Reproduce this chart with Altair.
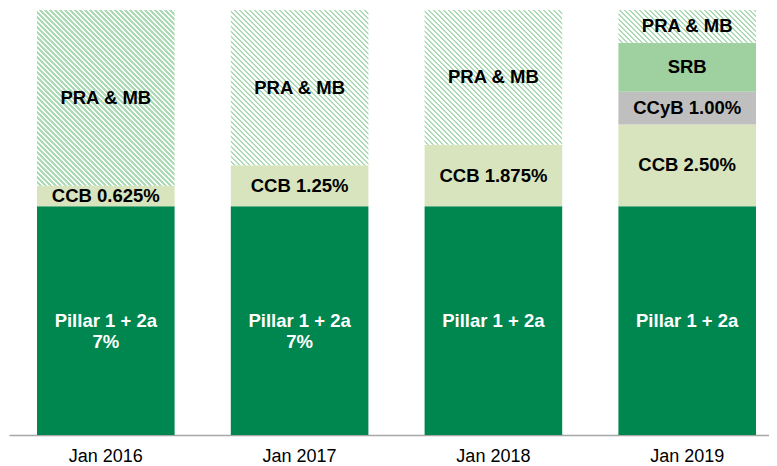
import math
import altair as alt
import pandas as pd

# ---- data -------------------------------------------------------------
years = ["Jan 2016", "Jan 2017", "Jan 2018", "Jan 2019"]
pillar = [7.0, 7.0, 7.0, 7.0]
ccb = [0.625, 1.25, 1.875, 2.5]
ccyb = [0.0, 0.0, 0.0, 1.0]
srb = [0.0, 0.0, 0.0, 1.5]
pra = [5.375, 4.75, 4.125, 1.0]

pillar_labels = ["Pillar 1 + 2a\n7%", "Pillar 1 + 2a\n7%", "Pillar 1 + 2a", "Pillar 1 + 2a"]
ccb_labels = ["CCB 0.625%", "CCB 1.25%", "CCB 1.875%", "CCB 2.50%"]
ccyb_labels = ["", "", "", "CCyB 1.00%"]
srb_labels = ["", "", "", "SRB"]
pra_labels = ["PRA & MB", "PRA & MB", "PRA & MB", "PRA & MB"]

segments = ["Pillar", "CCB", "CCyB", "SRB", "PRA"]
seg_colors = ["#00874f", "#d7e4bd", "#bfbfbf", "#9fd0a0", "#ffffff"]

# ---- table ------------------------------------------------------------
rows = []
for i, yr in enumerate(years):
    base = 0.0
    for seg, vals, labs in [("Pillar", pillar, pillar_labels), ("CCB", ccb, ccb_labels),
                            ("CCyB", ccyb, ccyb_labels), ("SRB", srb, srb_labels),
                            ("PRA", pra, pra_labels)]:
        v = vals[i]
        if v > 0:
            rows.append({"year": yr, "segment": seg, "value": v, "y0": base,
                         "y1": base + v, "mid": base + v / 2, "label": labs[i]})
        base += v
df = pd.DataFrame(rows)

# ---- layout -----------------------------------------------------------
W, H = 760, 425
YMAX = 13.0
STEP_PX, BAR_PX, FIRST_PX = 193.8, 137.6, 28.0
p_inner = 1 - BAR_PX / STEP_PX
p_outer = (W / STEP_PX - len(years) + p_inner) / 2
align = FIRST_PX / (W - STEP_PX * (len(years) - p_inner))

xscale = alt.Scale(domain=years, paddingInner=p_inner, paddingOuter=p_outer,
                   align=align, round=False)
xaxis = alt.Axis(title=None, ticks=False, tickSize=0, labelPadding=12,
                 labelFont="Liberation Sans", labelFontSize=18, labelColor="#000000",
                 domainColor="#a6a6a6", domainWidth=1.5, grid=False, labelAngle=0)
yscale = alt.Scale(domain=[0, YMAX], nice=False, zero=True)

X = alt.X("year:N", scale=xscale, axis=xaxis, sort=years)
Y = alt.Y("y0:Q", scale=yscale, axis=None)

base = alt.Chart(df)

solid = base.transform_filter(alt.datum.segment != "PRA").mark_bar().encode(
    x=X, y=Y, y2="y1:Q",
    color=alt.Color("segment:N", scale=alt.Scale(domain=segments, range=seg_colors),
                    legend=None),
)


def hatch(h_px, w_px=BAR_PX, period=5.0, frac=0.5,
          c_bg="#ffffff", c_fg="#addbb5"):
    k = (w_px + h_px) / (w_px * w_px + h_px * h_px)
    n = (w_px + h_px) / period
    stops = []
    for i in range(int(math.ceil(n))):
        a = i / n
        m = min((i + frac) / n, 1.0)
        b = min((i + 1) / n, 1.0)
        stops.append({"offset": round(a, 5), "color": c_bg})
        stops.append({"offset": round(m, 5), "color": c_bg})
        if m < 1.0:
            stops.append({"offset": round(m, 5), "color": c_fg})
            stops.append({"offset": round(b, 5), "color": c_fg})
    return {"gradient": "linear", "x1": 0, "y1": 1,
            "x2": round(k * w_px, 5), "y2": round(1 - k * h_px, 5), "stops": stops}


hatched = []
for i, yr in enumerate(years):
    h_px = pra[i] * H / YMAX
    hatched.append(
        base.transform_filter((alt.datum.segment == "PRA") & (alt.datum.year == yr))
        .mark_bar(color=hatch(h_px))
        .encode(x=X, y=Y, y2="y1:Q")
    )

text = base.mark_text(font="Liberation Sans", fontSize=18.5, fontWeight="bold",
                      lineBreak="\n", lineHeight=21, baseline="middle",
                      align="center").encode(
    x=X,
    y=alt.Y("mid:Q", scale=yscale, axis=None),
    text="label:N",
    color=alt.condition(alt.datum.segment == "Pillar", alt.value("#ffffff"),
                        alt.value("#000000")),
)

chart = alt.layer(solid, *hatched, text).properties(
    width=W, height=H,
    padding={"left": 1, "top": 2, "right": 0, "bottom": 0},
    background="#ffffff",
).configure_view(stroke=None)

chart.save("out.html", embed_options={"renderer": "svg", "actions": False})
